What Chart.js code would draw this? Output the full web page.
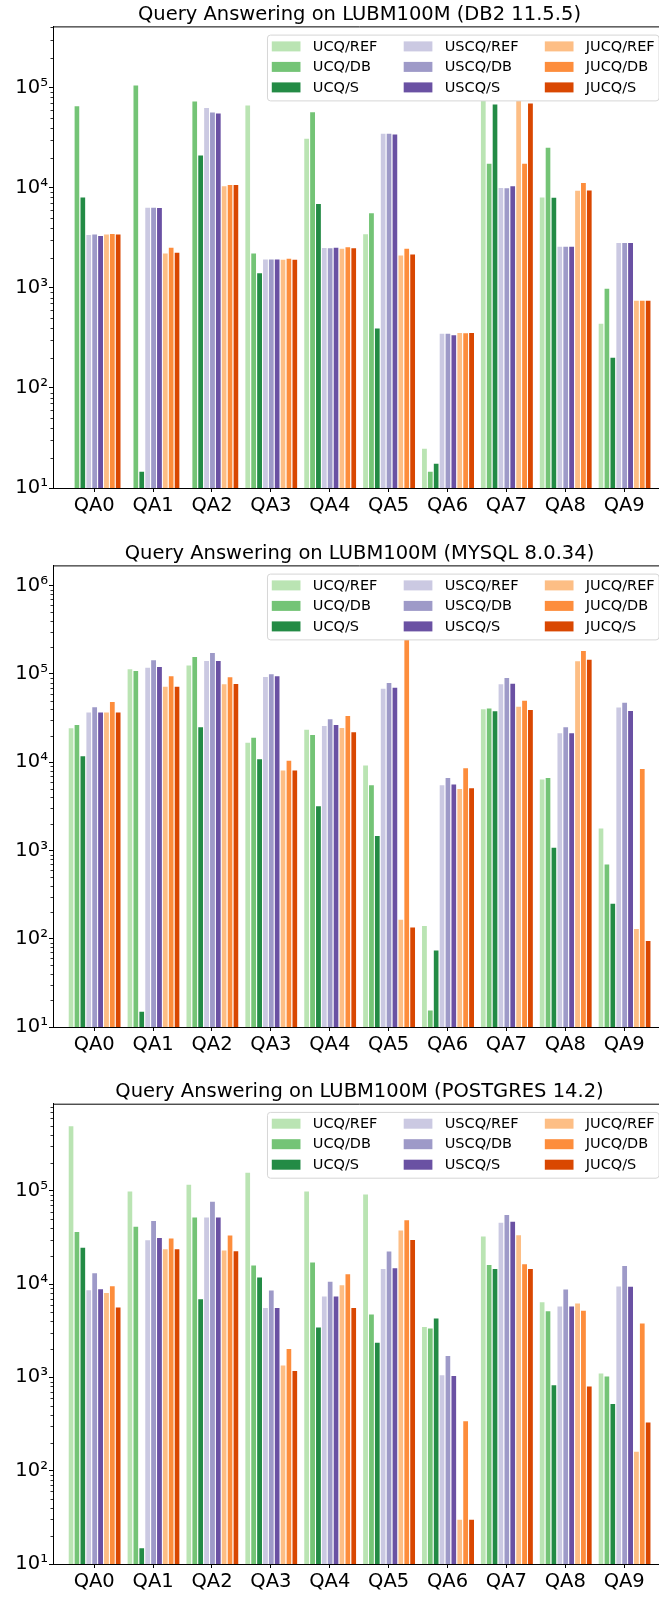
<!DOCTYPE html>
<html>
<head>
<meta charset="utf-8">
<script src="https://cdn.jsdelivr.net/npm/chart.js@4.4.1/dist/chart.umd.min.js"></script>
<style>
  html, body { margin: 0; padding: 0; background: #fff; overflow: hidden; width: 659px; }
  .panel { position: absolute; left: 0; width: 666px; height: 518px; }
</style>
</head>
<body>
<div class="panel" style="top:0px"><canvas id="db2"></canvas></div>
<div class="panel" style="top:539px"><canvas id="mysql"></canvas></div>
<div class="panel" style="top:1076px"><canvas id="postgres"></canvas></div>
<script>
const queries = ["QA0", "QA1", "QA2", "QA3", "QA4", "QA5", "QA6", "QA7", "QA8", "QA9"];
const seriesNames = ["UCQ/REF", "UCQ/DB", "UCQ/S", "USCQ/REF", "USCQ/DB", "USCQ/S", "JUCQ/REF", "JUCQ/DB", "JUCQ/S"];
const seriesColors = ["#bae4b3", "#74c476", "#238b45", "#cbc9e2", "#9e9ac8", "#6a51a3", "#fdbe85", "#fd8d3c", "#d94701"];

// DB2 11.5.5
const db2UcqRef   = [null, null, null, 68000, 31600, 3510, 25.3, 150000, 8200, 447];
const db2UcqDb    = [67000, 108000, 74500, 2250, 58300, 5680, 14.9, 17800, 25700, 1000];
const db2UcqS     = [8200, 14.9, 21500, 1430, 7050, 401, 17.9, 69500, 8150, 205];
const db2UscqRef  = [3450, 6470, 64000, 1970, 2560, 35500, 355, 10200, 2640, 2870];
const db2UscqDb   = [3500, 6470, 57800, 1970, 2550, 35500, 355, 10100, 2640, 2870];
const db2UscqS    = [3380, 6420, 56500, 1970, 2580, 34900, 344, 10600, 2640, 2870];
const db2JucqRef  = [3500, 2250, 10600, 1950, 2520, 2150, 363, 247000, 9570, 759];
const db2JucqDb   = [3530, 2580, 10900, 2000, 2600, 2520, 360, 17800, 11400, 759];
const db2JucqS    = [3500, 2300, 10900, 1950, 2550, 2210, 363, 71200, 9640, 759];

// MYSQL 8.0.34
const mysqlUcqRef  = [24900, 116000, 128000, 17100, 24000, 9420, 143, 40800, 6530, 1820];
const mysqlUcqDb   = [27200, 111000, 160000, 19400, 20900, 5640, 15.8, 41600, 6820, 713];
const mysqlUcqS    = [12000, 15.3, 25600, 11100, 3260, 1500, 75.7, 38800, 1100, 256];
const mysqlUscqRef = [37500, 121000, 144000, 94800, 26500, 70000, 5640, 78300, 21900, 42700];
const mysqlUscqDb  = [43100, 147000, 177000, 102000, 31500, 81100, 6820, 92500, 25600, 48600];
const mysqlUscqS   = [37500, 123000, 144000, 96600, 27200, 71900, 5730, 79800, 21900, 39100];
const mysqlJucqRef = [37500, 73800, 78300, 8260, 25100, 168, 5120, 43800, 143000, 132];
const mysqlJucqDb  = [49400, 96600, 94200, 10700, 34400, 960000, 8770, 51200, 187000, 8630];
const mysqlJucqS   = [37500, 73800, 78800, 8260, 22400, 138, 5210, 40200, 149000, 96.6];

// POSTGRES 14.2
const pgUcqRef  = [506000, 101000, 119000, 160000, 101000, 93600, 3560, 33200, 6560, 1130];
const pgUcqDb   = [37200, 42200, 53100, 16200, 17500, 4840, 3420, 16400, 5250, 1050];
const pgUcqS    = [25100, 15.1, 7060, 12100, 3510, 2420, 4380, 14900, 845, 533];
const pgUscqRef = [8830, 30300, 53100, 5700, 7550, 14900, 1080, 46600, 5890, 9660];
const pgUscqDb  = [13400, 48800, 78200, 8750, 10900, 22900, 1740, 56600, 8970, 16000];
const pgUscqS   = [9040, 32100, 53100, 5700, 7550, 15200, 1060, 47700, 5890, 9640];
const pgJucqRef = [8250, 24300, 23500, 1380, 10000, 38500, 30.6, 34300, 6360, 164];
const pgJucqDb  = [9730, 31600, 34100, 2070, 13100, 49600, 348, 16800, 5330, 3870];
const pgJucqS   = [5750, 24300, 23100, 1200, 5700, 30500, 30.6, 14900, 817, 336];

// log axis ticks
const ticksTo1e5 = [10, 100, 1000, 10000, 100000];
const ticksTo1e6 = [10, 100, 1000, 10000, 100000, 1000000];
const tickLabels = ["10¹", "10²", "10³", "10⁴", "10⁵", "10⁶"];

const FONT = "'DejaVu Sans', sans-serif";

// top spine, minor log ticks and a matplotlib-like legend drawn over the bars
const boxPlugin = {
  id: "boxPlugin",
  afterDatasetsDraw(chart) {
    const { ctx, chartArea, scales } = chart;
    const y = scales.y;
    ctx.save();
    ctx.strokeStyle = "#000";
    ctx.lineWidth = 1;
    ctx.beginPath();
    ctx.moveTo(chartArea.left, chartArea.top + 0.5);
    ctx.lineTo(chartArea.right, chartArea.top + 0.5);
    ctx.stroke();

    ctx.lineWidth = 0.8;
    ctx.beginPath();
    for (let p = 10; p < y.max; p *= 10) {
      for (let d = 2; d <= 9; d++) {
        const v = d * p;
        if (v > y.max) break;
        const py = Math.round(y.getPixelForValue(v)) + 0.5;
        ctx.moveTo(chartArea.left - 2.5, py);
        ctx.lineTo(chartArea.left, py);
      }
    }
    ctx.stroke();

    // legend, 3 columns x 3 rows
    const fs = 14.5;
    ctx.font = fs + "px " + FONT;
    const padX = 4.3, handleW = 28.7, handleH = 10, handlePad = 12.3, colGap = 26.3;
    const colW = [0, 1, 2].map(c =>
      Math.max(...[0, 1, 2].map(r => ctx.measureText(seriesNames[c * 3 + r]).width)));
    const width = padX * 2 + colW.reduce((a, b) => a + b, 0) + 3 * (handleW + handlePad) + 2 * colGap;
    const right = chartArea.right - 7;
    const left = right - width;
    const top = chartArea.top + 8.7;
    const height = 65.8;

    ctx.fillStyle = "#fff";
    ctx.strokeStyle = "#d6d6d6";
    ctx.lineWidth = 1;
    ctx.beginPath();
    ctx.roundRect(left, top, width, height, 3);
    ctx.fill();
    ctx.stroke();

    ctx.textBaseline = "middle";
    ctx.textAlign = "left";
    let x = left + padX;
    for (let c = 0; c < 3; c++) {
      for (let r = 0; r < 3; r++) {
        const i = c * 3 + r;
        const cy = top + 11.3 + r * 20.5;
        ctx.fillStyle = seriesColors[i];
        ctx.fillRect(x, cy - handleH / 2, handleW, handleH);
        ctx.fillStyle = "#000";
        ctx.fillText(seriesNames[i], x + handleW + handlePad, cy + 0.5);
      }
      x += handleW + handlePad + colW[c] + colGap;
    }
    ctx.restore();
  }
};

function makeChart(id, title, series, yMax, yTicks, titleTop) {
  const datasets = series.map((values, i) => ({
    label: seriesNames[i],
    data: values.map((v, q) => ({ x: q, y: v })),
    backgroundColor: seriesColors[i],
    borderColor: "rgba(255,255,255,0.35)",
    borderWidth: { left: 1, top: 1, right: 0, bottom: 0 },
    borderSkipped: false,
    categoryPercentage: 0.9,
    barPercentage: 1.0
  }));

  return new Chart(document.getElementById(id), {
    type: "bar",
    data: { datasets },
    options: {
      responsive: true,
      maintainAspectRatio: false,
      animation: false,
      layout: { padding: 0, autoPadding: false },
      plugins: {
        legend: { display: false },
        tooltip: { enabled: false },
        title: {
          display: true,
          fullSize: false,
          text: title,
          color: "#000",
          font: { family: FONT, size: 19.5, weight: "normal" },
          padding: { top: titleTop, bottom: 0 }
        }
      },
      scales: {
        x: {
          type: "linear",
          offset: false,
          min: -0.7,
          max: 9.71,
          afterBuildTicks: (scale) => {
            scale.ticks = queries.map((q, i) => ({ value: i }));
          },
          afterFit: (scale) => { scale.height = 30; },
          ticks: {
            autoSkip: false,
            maxRotation: 0,
            color: "#000",
            padding: 2,
            font: { family: FONT, size: 19.5 },
            callback: (v) => queries[v]
          },
          grid: { offset: false, drawOnChartArea: false, drawTicks: true, tickLength: 4, tickColor: "#000", tickWidth: 1 },
          border: { display: true, color: "#000", width: 1 }
        },
        y: {
          type: "logarithmic",
          min: 10,
          max: yMax,
          afterBuildTicks: (scale) => {
            scale.ticks = yTicks.map(v => ({ value: v, major: true }));
          },
          afterFit: (scale) => { scale.width = 53; },
          ticks: {
            color: "#000",
            padding: 1,
            font: { family: FONT, size: 19.5 },
            callback: (v) => tickLabels[yTicks.indexOf(v)]
          },
          grid: { drawOnChartArea: false, drawTicks: true, tickLength: 4, tickColor: "#000", tickWidth: 1 },
          border: { display: true, color: "#000", width: 1 }
        }
      }
    },
    plugins: [boxPlugin]
  });
}

makeChart("db2", "Query Answering on LUBM100M (DB2 11.5.5)",
  [db2UcqRef, db2UcqDb, db2UcqS, db2UscqRef, db2UscqDb, db2UscqS, db2JucqRef, db2JucqDb, db2JucqS],
  4.1e5, ticksTo1e5, 3);

makeChart("mysql", "Query Answering on LUBM100M (MYSQL 8.0.34)",
  [mysqlUcqRef, mysqlUcqDb, mysqlUcqS, mysqlUscqRef, mysqlUscqDb, mysqlUscqS, mysqlJucqRef, mysqlJucqDb, mysqlJucqS],
  1.7e6, ticksTo1e6, 3);

makeChart("postgres", "Query Answering on LUBM100M (POSTGRES 14.2)",
  [pgUcqRef, pgUcqDb, pgUcqS, pgUscqRef, pgUscqDb, pgUscqS, pgJucqRef, pgJucqDb, pgJucqS],
  8.6e5, ticksTo1e5, 4.3);
</script>
</body>
</html>
